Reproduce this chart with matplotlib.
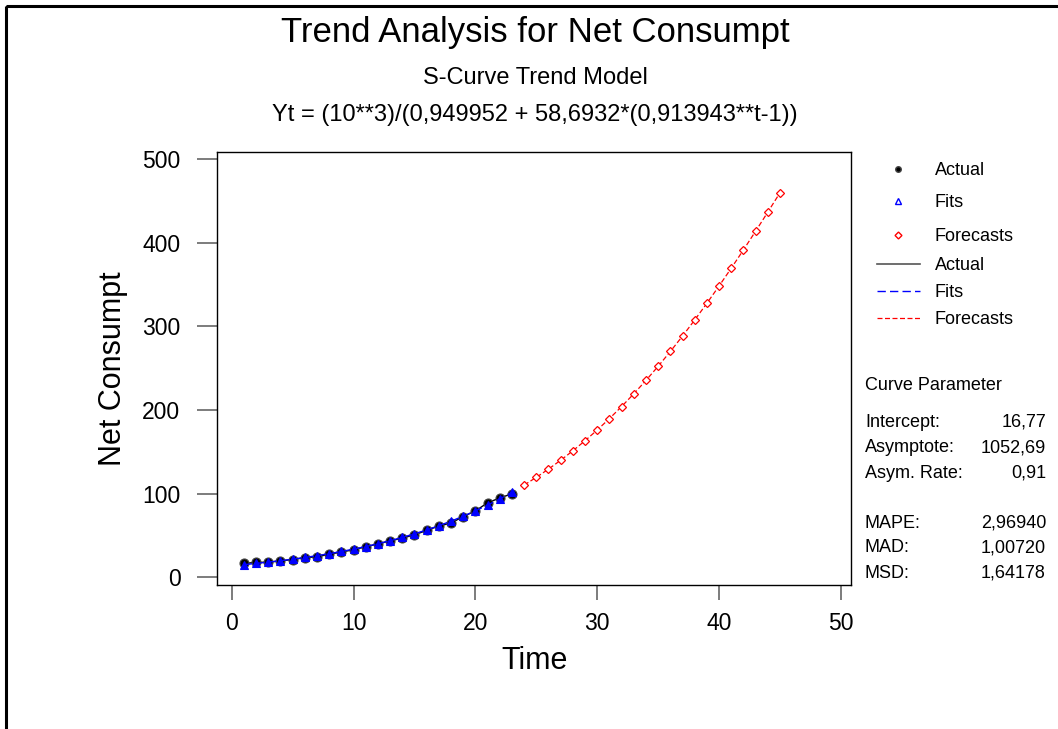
import matplotlib
matplotlib.use("Agg")
import matplotlib.pyplot as plt
from matplotlib.lines import Line2D
from matplotlib.patches import Rectangle

plt.rcParams['font.family'] = ['Liberation Sans', 'DejaVu Sans']

# 資料
time_actual = list(range(1, 24))
actual = [16.8, 18.0, 18.3, 19.8, 21.4, 23.7, 24.6, 27.8, 30.3, 33.2, 36.6, 40.1,
          43.7, 47.0, 51.0, 56.2, 61.5, 65.0, 72.8, 79.5, 89.2, 95.0, 100.0]
fits = [15.34, 16.77, 18.32, 20.01, 21.85, 23.87, 26.06, 28.44, 31.04, 33.87, 36.95, 40.30,
        43.93, 47.88, 52.16, 56.81, 61.85, 67.30, 73.20, 79.57, 86.45, 93.85, 101.84]
time_fc = list(range(24, 46))
forecasts = [110.42, 119.64, 129.52, 140.09, 151.38, 163.42, 176.23, 189.83, 204.24, 219.47,
             235.51, 252.37, 270.04, 288.50, 307.72, 327.68, 348.32, 369.60, 391.46, 413.84,
             436.63, 459.79]
x_ticks = [0, 10, 20, 30, 40, 50]
y_ticks = [0, 100, 200, 300, 400, 500]

param_labels = ["Intercept:", "Asymptote:", "Asym. Rate:"]
param_values = ["16,77", "1052,69", "0,91"]
acc_labels = ["MAPE:", "MAD:", "MSD:"]
acc_values = ["2,96940", "1,00720", "1,64178"]

W, H = 1058, 729
fig = plt.figure(figsize=(W / 100, H / 100), dpi=100)

# 主圖
ax = fig.add_axes([217.3 / W, 1 - 585 / H, (851.3 - 217.3) / W, (585 - 152) / H])
ax.plot(time_actual, actual, color='black', lw=1.0, marker='o', ms=6.5,
        mfc='black', mec='#444444', mew=0.8, zorder=3)
ax.plot(time_actual, fits, color='blue', lw=1.0, ls=(0, (6, 3)), marker='^', ms=5.5,
        mfc='blue', mec='blue', mew=0.8, zorder=4)
ax.plot(time_fc, forecasts, color='red', lw=0.9, ls=(0, (4, 2)), marker='D', ms=4.5,
        mfc='white', mec='red', mew=0.9, zorder=3)

ax.set_xlim(-1.18, 50.85)
ax.set_ylim(-9.0, 508.4)
ax.set_xticks(x_ticks)
ax.set_yticks(y_ticks)
ax.tick_params(axis='x', direction='out', length=10.5, width=1.2, color='#666666',
               labelsize=16.5, pad=9)
ax.tick_params(axis='y', direction='out', length=14.5, width=1.2, color='#666666',
               labelsize=16.5, pad=12)
for s in ax.spines.values():
    s.set_linewidth(1.0)
    s.set_color('black')
ax.set_xlabel("Time", fontsize=22)
ax.xaxis.set_label_coords(0.5, -0.142)
ax.set_ylabel("Net Consumpt", fontsize=22)
ax.yaxis.set_label_coords(-0.141, 0.5)

# 疊加層（像素座標）：標題、圖例、參數
ov = fig.add_axes([0, 0, 1, 1], facecolor='none')
ov.set_xlim(0, W)
ov.set_ylim(H, 0)
ov.axis('off')

ov.add_patch(Rectangle((6, 5.5), W + 20, H + 20, fill=False, lw=2.2, ec='black'))

ov.text(535, 32, "Trend Analysis for Net Consumpt", fontsize=25, ha='center', va='center')
ov.text(535, 78, "S-Curve Trend Model", fontsize=17, ha='center', va='center')
ov.text(535, 115, "Yt = (10**3)/(0,949952 + 58,6932*(0,913943**t-1))", fontsize=17,
        ha='center', va='center')

# 圖例
ov.plot([898], [169], marker='o', ms=4, color='black', mec='#444444')
ov.plot([898], [201], marker='^', ms=4, mfc='white', mec='blue', mew=1.0)
ov.plot([898], [235], marker='D', ms=3.5, mfc='white', mec='red', mew=1.0)
ov.add_line(Line2D([877, 920], [264, 264], color='#555555', lw=1.2))
ov.add_line(Line2D([877, 920], [291, 291], color='blue', lw=1.0, ls=(0, (6, 3))))
ov.add_line(Line2D([877, 920], [318, 318], color='red', lw=0.9, ls=(0, (4, 2))))
for yy, lab in zip([170, 202, 236, 265, 292, 319],
                   ["Actual", "Fits", "Forecasts", "Actual", "Fits", "Forecasts"]):
    ov.text(935, yy, lab, fontsize=13, ha='left', va='center')

# 曲線參數
ov.text(865, 385, "Curve Parameter", fontsize=13, ha='left', va='center')
for i, (lab, val) in enumerate(zip(param_labels, param_values)):
    ov.text(865, 422 + 25.5 * i, lab, fontsize=13, ha='left', va='center')
    ov.text(1046, 422 + 25.5 * i, val, fontsize=13, ha='right', va='center')
for i, (lab, val) in enumerate(zip(acc_labels, acc_values)):
    ov.text(865, 523 + 25 * i, lab, fontsize=13, ha='left', va='center')
    ov.text(1046, 523 + 25 * i, val, fontsize=13, ha='right', va='center')

fig.savefig("out.png", dpi=100)
